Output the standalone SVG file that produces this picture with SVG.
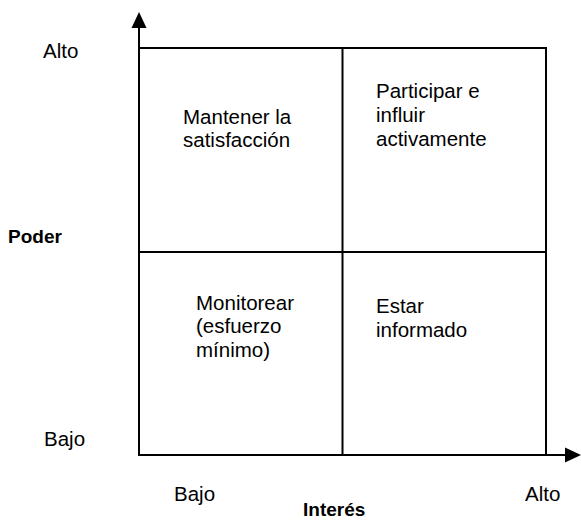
<svg xmlns="http://www.w3.org/2000/svg" width="581" height="521" viewBox="0 0 581 521">
<style>
.t{font-family:"Liberation Sans",Arial,sans-serif;font-size:20.5px;fill:#000}
.b{font-family:"Liberation Sans",Arial,sans-serif;font-size:19px;font-weight:bold;fill:#000}
.ln{stroke:#000;stroke-width:2;fill:none}
</style>
<g id="connectors">
<line class="ln" x1="139" y1="456" x2="139" y2="28"/>
<path d="M131.5,28 L139,12 L146.5,28 Z" fill="#000"/>
<line class="ln" x1="138" y1="455" x2="565" y2="455"/>
<path d="M565,447.5 L581,455 L565,462.5 Z" fill="#000"/>
</g>
<g id="grid">
<line class="ln" x1="139" y1="48" x2="547" y2="48"/>
<line class="ln" x1="546" y1="48" x2="546" y2="455"/>
<line class="ln" x1="342.5" y1="48" x2="342.5" y2="455"/>
<line class="ln" x1="139" y1="252" x2="546" y2="252"/>
</g>
<g id="q-tl"><text class="t" x="183" y="124">Mantener la</text><text class="t" x="183" y="147">satisfacción</text></g>
<g id="q-tr"><text class="t" x="376" y="98">Participar e</text><text class="t" x="376" y="122">influir</text><text class="t" x="376" y="146">activamente</text></g>
<g id="q-bl"><text class="t" x="196" y="310">Monitorear</text><text class="t" x="196" y="333">(esfuerzo</text><text class="t" x="196" y="357">mínimo)</text></g>
<g id="q-br"><text class="t" x="376" y="313">Estar</text><text class="t" x="376" y="337">informado</text></g>
<g id="labels">
<text class="t" x="43" y="58">Alto</text>
<text class="t" x="44" y="446">Bajo</text>
<text class="b" x="8" y="243">Poder</text>
<text class="t" x="174" y="501">Bajo</text>
<text class="t" x="525" y="501">Alto</text>
<text class="b" x="303" y="516">Interés</text>
</g>
</svg>
